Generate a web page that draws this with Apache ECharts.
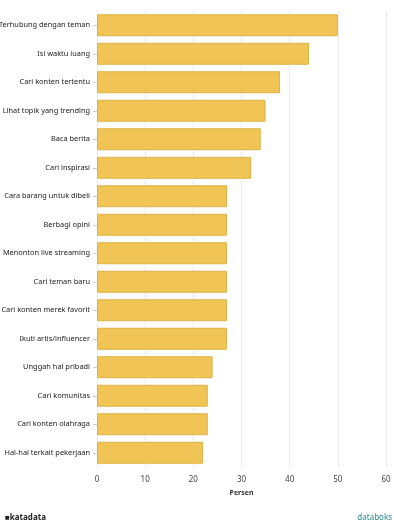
<!DOCTYPE html>
<html><head><meta charset="utf-8">
<script src="https://cdn.jsdelivr.net/npm/echarts@6/dist/echarts.min.js"></script>
<style>html,body{margin:0;padding:0;background:#fff}#c{width:394px;height:527px}</style>
</head><body><div id="c"></div>
<script>
const categories = ["Terhubung dengan teman","Isi waktu luang","Cari konten tertentu","Lihat topik yang trending","Baca berita","Cari inspirasi","Cara barang untuk dibeli","Berbagi opini","Menonton live streaming","Cari teman baru","Cari konten merek favorit","Ikuti artis/influencer","Unggah hal pribadi","Cari komunitas","Cari konten olahraga","Hal-hal terkait pekerjaan"];
const values = [50,44,38,35,34,32,27,27,27,27,27,27,24,23,23,22];
const xTicks = [0,10,20,30,40,50,60];
const chart = echarts.init(document.getElementById('c'), null, {renderer:'canvas'});
chart.setOption({
  animation:false,
  grid:{left:97,right:8,top:11,bottom:60,containLabel:false,outerBoundsMode:'none'},
  xAxis:{type:'value',min:xTicks[0],max:xTicks[xTicks.length-1],interval:10,
    name:'Persen',nameLocation:'middle',nameGap:22,
    nameTextStyle:{fontSize:7,fontWeight:'bold',color:'#333',fontFamily:'Noto Sans'},
    axisLine:{show:false},axisTick:{show:false},
    axisLabel:{fontSize:8,color:'#444',margin:9,fontFamily:'Noto Sans'},
    splitLine:{lineStyle:{color:'#ececec',width:1}}},
  yAxis:{type:'category',data:categories,inverse:true,
    axisLine:{show:false},
    axisTick:{show:true,length:4,alignWithLabel:true,lineStyle:{color:'#ccc'}},
    axisLabel:{fontSize:7.4,color:'#222',margin:7,fontFamily:'Noto Sans'}},
  series:[{type:'bar',data:values,barCategoryGap:'23%',
    itemStyle:{color:'#f1c555',borderColor:'#dcb245',borderWidth:1}}],
  graphic:[
    {type:'text',left:5,top:514,style:{text:'■katadata',fontSize:8,fontWeight:'bold',fill:'#222',fontFamily:'Noto Sans'}},
    {type:'text',right:2,top:514,style:{text:'databoks',fontSize:8,fill:'#2a8a8a',fontFamily:'Noto Sans'}}
  ]
});
</script></body></html>
